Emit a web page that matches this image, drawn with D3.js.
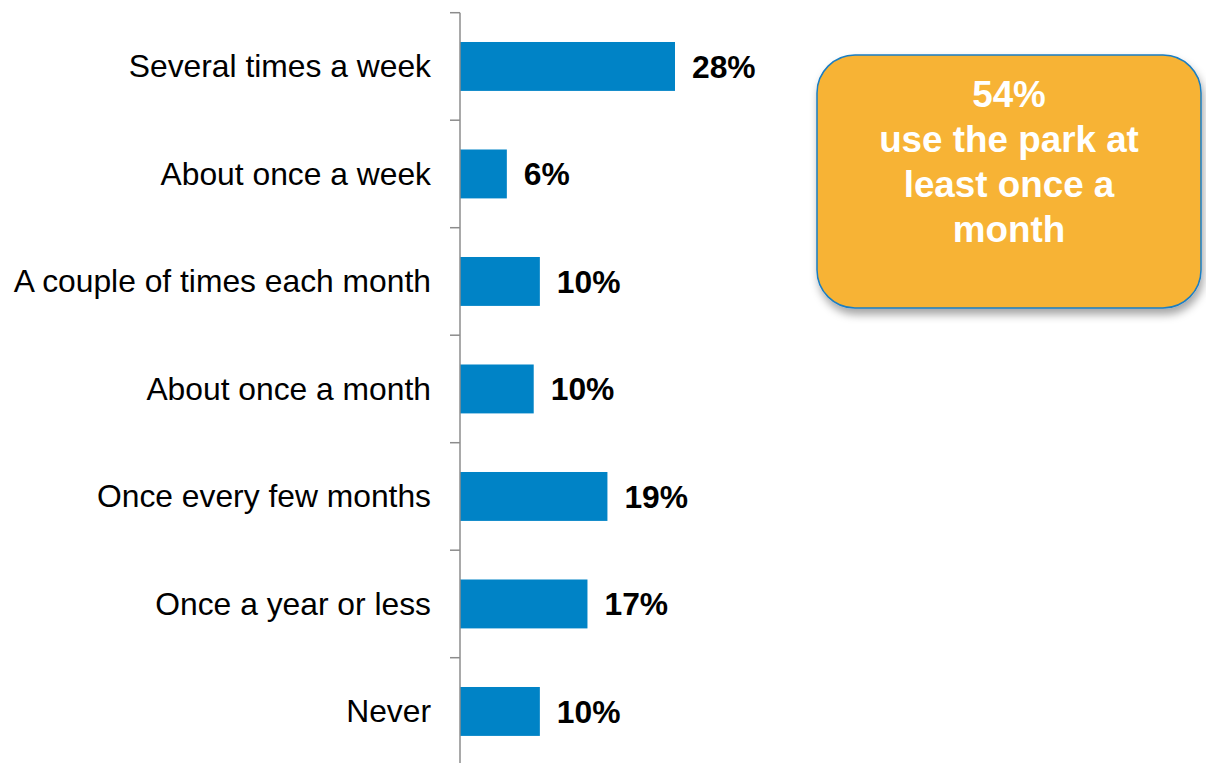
<!DOCTYPE html>
<html>
<head>
<meta charset="utf-8">
<script src="https://cdn.jsdelivr.net/npm/d3@7"></script>
<style>
  html, body { margin: 0; padding: 0; background: #fff; }
  svg { display: block; }
</style>
</head>
<body>
<svg id="chart" width="1206" height="763"></svg>
<script>
const categories = [
  "Several times a week",
  "About once a week",
  "A couple of times each month",
  "About once a month",
  "Once every few months",
  "Once a year or less",
  "Never"
];
const values = [28, 6.1, 10.4, 9.6, 19.2, 16.6, 10.4];
const calloutLines = ["54%", "use the park at", "least once a", "month"];

const svg = d3.select("#chart");
const axisX = 460;
const plotTop = 12.7;
const band = 107.5;

const y = d3.scaleBand()
  .domain(categories)
  .range([plotTop, plotTop + band * categories.length])
  .paddingInner(0.545)
  .paddingOuter(0.2725);

const x = d3.scaleLinear()
  .domain([0, 30])
  .range([axisX, axisX + 215 * 30 / 28]);

// bars
svg.append("g").selectAll("rect")
  .data(values)
  .join("rect")
  .attr("x", x(0))
  .attr("y", (d, i) => y(categories[i]))
  .attr("width", d => x(d) - x(0))
  .attr("height", y.bandwidth())
  .attr("fill", "#0083C6");

// axis line and ticks at band boundaries
const axisG = svg.append("g");
const boundaries = d3.range(categories.length + 1).map(i => plotTop + band * i);
axisG.append("line")
  .attr("x1", axisX).attr("x2", axisX)
  .attr("y1", plotTop).attr("y2", 763)
  .attr("stroke", "#8c8c8c").attr("stroke-width", 1.5);
axisG.selectAll("line.tick")
  .data(boundaries)
  .join("line")
  .attr("class", "tick")
  .attr("x1", axisX - 10).attr("x2", axisX)
  .attr("y1", d => d).attr("y2", d => d)
  .attr("stroke", "#8c8c8c").attr("stroke-width", 1.5);

// category labels
svg.append("g").selectAll("text")
  .data(categories)
  .join("text")
  .attr("x", axisX - 29)
  .attr("y", d => y(d) + y.bandwidth() / 2)
  .attr("dy", "0.34em")
  .attr("text-anchor", "end")
  .attr("font-family", "Liberation Sans, Arial, sans-serif")
  .attr("font-size", 31.8)
  .attr("fill", "#000")
  .text(d => d);

// value labels
svg.append("g").selectAll("text")
  .data(values)
  .join("text")
  .attr("x", d => x(d) + 17)
  .attr("y", (d, i) => y(categories[i]) + y.bandwidth() / 2)
  .attr("dy", "0.36em")
  .attr("font-family", "Liberation Sans, Arial, sans-serif")
  .attr("font-size", 31.8)
  .attr("font-weight", "bold")
  .attr("fill", "#000")
  .text(d => Math.round(d) + "%");

// callout box
const defs = svg.append("defs");
const f = defs.append("filter").attr("id", "shadow")
  .attr("x", "-10%").attr("y", "-10%").attr("width", "130%").attr("height", "140%");
f.append("feDropShadow")
  .attr("dx", 2).attr("dy", 6).attr("stdDeviation", 4)
  .attr("flood-color", "#000").attr("flood-opacity", 0.35);

const bx = 817, by = 55, bw = 384, bh = 253;
svg.append("rect")
  .attr("x", bx).attr("y", by)
  .attr("width", bw).attr("height", bh)
  .attr("rx", 38).attr("ry", 38)
  .attr("fill", "#F7B334")
  .attr("stroke", "#1A7DC2")
  .attr("stroke-width", 1.5)
  .attr("filter", "url(#shadow)");

svg.append("g").selectAll("text")
  .data(calloutLines)
  .join("text")
  .attr("x", 1009)
  .attr("y", (d, i) => 107 + i * 45)
  .attr("text-anchor", "middle")
  .attr("font-family", "Liberation Sans, Arial, sans-serif")
  .attr("font-size", 36.8)
  .attr("font-weight", "bold")
  .attr("fill", "#fff")
  .text(d => d);
</script>
</body>
</html>
